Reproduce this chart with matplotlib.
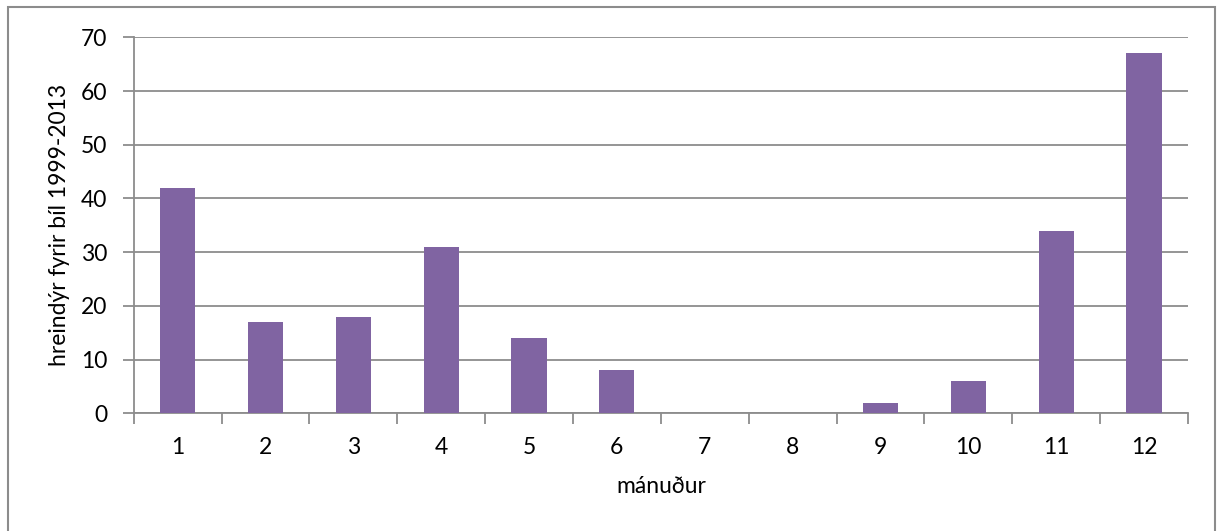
import matplotlib
matplotlib.use("Agg")
import matplotlib.pyplot as plt
from matplotlib.patches import Rectangle
import numpy as np

months = ["1", "2", "3", "4", "5", "6", "7", "8", "9", "10", "11", "12"]
counts = [42, 17, 18, 31, 14, 8, 0, 0, 2, 6, 34, 67]
y_ticks = [0, 10, 20, 30, 40, 50, 60, 70]

plt.rcParams['font.family'] = ['Lato', 'DejaVu Sans']

W, H = 1217, 531
fig = plt.figure(figsize=(W / 100, H / 100), dpi=100)
fig.patch.set_facecolor("white")

# outer chart border
fig.patches.append(Rectangle((8 / W, -0.05), (1215 - 8) / W, 1 - 7 / H + 0.05,
                             transform=fig.transFigure, fill=False,
                             edgecolor="#8c8c8c", linewidth=1.5))

ax = fig.add_axes([133.7 / W, 1 - 413.3 / H, (1188 - 133.7) / W, (413.3 - 37.3) / H])
x = np.arange(1, len(months) + 1)
ax.bar(x, counts, width=0.40, color="#8064A2", zorder=3)

FS = 16.5
ax.set_xlim(0.5, 12.5)
ax.set_ylim(0, 70)
ax.set_yticks(y_ticks)
ax.set_yticklabels([str(v) for v in y_ticks], fontsize=FS)
ax.yaxis.grid(True, color="#8c8c8c", linewidth=1.3, zorder=0)

ax.set_xticks(np.arange(0.5, 13.0, 1.0))
ax.set_xticklabels([])
ax.set_xticks(x, minor=True)
ax.set_xticklabels(months, minor=True, fontsize=FS)
ax.tick_params(axis="x", which="major", length=8, width=1.3, color="#8c8c8c")
ax.tick_params(axis="x", which="minor", length=0, pad=17)
ax.tick_params(axis="y", length=8, width=1.3, color="#8c8c8c", pad=11)

for s in ["top", "right"]:
    ax.spines[s].set_visible(False)
for s in ["left", "bottom"]:
    ax.spines[s].set_color("#8c8c8c")
    ax.spines[s].set_linewidth(1.3)

ax.set_xlabel("mánuður", fontsize=FS, labelpad=13)
ax.set_ylabel("hreindýr fyrir bíl 1999-2013", fontsize=FS, labelpad=8)

fig.savefig("out.png", dpi=100, facecolor="white")
